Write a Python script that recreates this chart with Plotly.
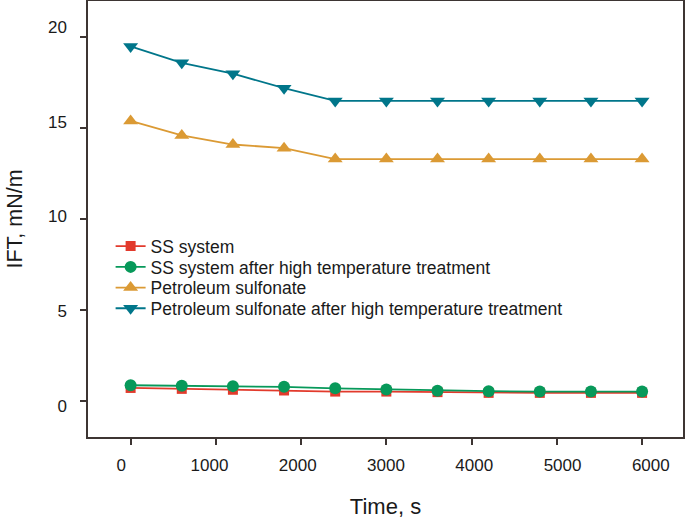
import plotly.graph_objects as go

time_s = [0, 600, 1200, 1800, 2400, 3000, 3600, 4200, 4800, 5400, 6000]

ss_system = [0.70, 0.65, 0.60, 0.56, 0.50, 0.50, 0.47, 0.43, 0.43, 0.43, 0.43]
ss_system_heated = [0.85, 0.82, 0.80, 0.76, 0.68, 0.62, 0.55, 0.52, 0.50, 0.50, 0.50]
petroleum_sulfonate = [15.4, 14.6, 14.1, 13.9, 13.3, 13.3, 13.3, 13.3, 13.3, 13.3, 13.3]
petroleum_sulfonate_heated = [19.5, 18.6, 18.0, 17.2, 16.5, 16.5, 16.5, 16.5, 16.5, 16.5, 16.5]

series_names = [
    "SS system",
    "SS system after high temperature treatment",
    "Petroleum sulfonate",
    "Petroleum sulfonate after high temperature treatment",
]
series_colors = ["#e23a2c", "#07995a", "#db9a34", "#00768a"]
series_symbols = ["square", "circle", "triangle-up", "triangle-down"]
series_sizes = [10, 12, 13, 13]

y_ticks = [0, 5, 10, 15, 20]
x_ticks = [0, 1000, 2000, 3000, 4000, 5000, 6000]

frame_color = "#3d3533"
text_color = "#1a1a1a"

# one legend per series so the rows sit as tight as in the original
legend_ids = ["legend", "legend2", "legend3", "legend4"]
legend_rows = [0.4376, 0.3899, 0.3424, 0.2950]

fig = go.Figure()
for name, values, color, symbol, size, legend_id in zip(
    series_names,
    [ss_system, ss_system_heated, petroleum_sulfonate, petroleum_sulfonate_heated],
    series_colors,
    series_symbols,
    series_sizes,
    legend_ids,
):
    fig.add_trace(
        go.Scatter(
            x=time_s,
            y=values,
            name=name,
            legend=legend_id,
            mode="lines+markers",
            line={"color": color, "width": 1.8},
            marker={"symbol": symbol, "size": size, "color": color},
        )
    )

# empty trace so the label axes get drawn
fig.add_trace(
    go.Scatter(x=[], y=[], xaxis="x2", yaxis="y2", showlegend=False, hoverinfo="skip")
)

legends = {}
for legend_id, row in zip(legend_ids, legend_rows):
    legends[legend_id] = {
        "x": 0.038,
        "y": row,
        "xanchor": "left",
        "yanchor": "middle",
        "bgcolor": "rgba(0,0,0,0)",
        "borderwidth": 0,
        "font": {"size": 17.5, "color": text_color},
        "itemwidth": 30,
    }

frame_axis = {
    "ticks": "outside",
    "ticklen": 6,
    "tickwidth": 1.5,
    "tickcolor": frame_color,
    "showline": True,
    "linecolor": frame_color,
    "linewidth": 2,
    "mirror": True,
    "showgrid": False,
    "zeroline": False,
    "showticklabels": False,
    "automargin": False,
}

# the printed labels in the source sit on a slightly wider scale than the tick marks
label_axis = {
    "showline": False,
    "showgrid": False,
    "zeroline": False,
    "ticks": "",
    "automargin": False,
    "tickfont": {"size": 17, "color": text_color},
}

fig.update_layout(
    width=685,
    height=523,
    margin={"l": 88, "r": 2, "t": 1, "b": 86},
    paper_bgcolor="white",
    plot_bgcolor="white",
    font={"family": "Arial, Liberation Sans, sans-serif", "color": text_color, "size": 17},
    showlegend=True,
    xaxis={**frame_axis, "range": [-500, 6480], "tickvals": x_ticks},
    yaxis={**frame_axis, "range": [-2, 22], "tickvals": y_ticks},
    xaxis2={
        **label_axis,
        "overlaying": "x",
        "side": "bottom",
        "range": [-377, 6365],
        "tickvals": x_ticks,
        "ticklabelstandoff": 16,
        "title": {"text": "Time, s", "font": {"size": 22, "color": text_color}, "standoff": 24},
    },
    yaxis2={
        **label_axis,
        "overlaying": "y",
        "side": "left",
        "range": [-1.654, 21.39],
        "tickvals": y_ticks,
        "ticklabelstandoff": 20,
        "title": {"text": "IFT, mN/m", "font": {"size": 21.5, "color": text_color}, "standoff": 19},
    },
    **legends,
)

fig.write_html(
    "out.html",
    config={"displayModeBar": False},
    post_script="document.body.style.margin = '0';",
)
